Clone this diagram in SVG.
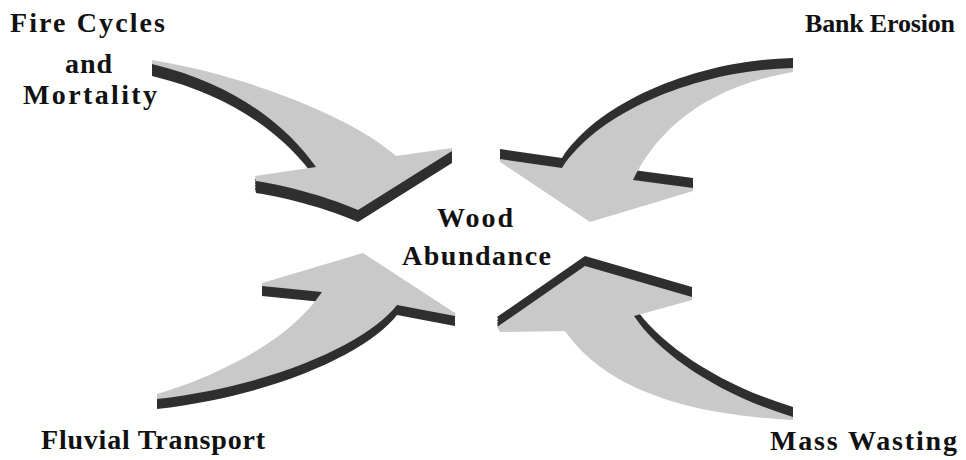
<svg xmlns="http://www.w3.org/2000/svg" xmlns:xlink="http://www.w3.org/1999/xlink" width="966" height="460" viewBox="0 0 966 460">
<style>
.lbl{font-family:"Liberation Serif","Times New Roman",serif;font-weight:bold;font-size:28px;fill:#111}
.top{fill:#c9c9c9}
.side{fill:#2f2f2f}
</style>
<defs>
<path id="a1" d="M152,60 C240,74 350,115 396,156 L452,148 L452,151 L358,210 C330,198 290,186 256,181 L255,176 L316,167 C290,130 240,85 152,64 Z"/>
<path id="a2" d="M793,68 C700,70 600,110 562,168 L500,159 L500,162 L590,222 L693,191 L693,188 L633,180 C655,135 700,88 793,72 Z"/>
<path id="a3" d="M157,394 C220,375 290,340 322,292 L262,286 L262,283 L363,253 L455,313 L455,316 L397,305 C370,340 280,385 157,399 Z"/>
<path id="a4" d="M497,327 L585,266 L692,297 L692,300 L634,316 C660,355 720,395 793,417 L793,420 C700,415 610,395 565,331 L500,332 Z"/>
</defs>
<rect width="966" height="460" fill="#fff"/>
<g id="connectors">
  <g id="arrow-fire">
    <use xlink:href="#a1" class="side" transform="translate(0,12)"/>
    <use xlink:href="#a1" class="side" transform="translate(0,9)"/>
    <use xlink:href="#a1" class="side" transform="translate(0,6)"/>
    <use xlink:href="#a1" class="side" transform="translate(0,3)"/>
    <use xlink:href="#a1" class="top"/>
  </g>
  <g id="arrow-bank">
    <use xlink:href="#a2" class="side" transform="translate(0,-10)"/>
    <use xlink:href="#a2" class="side" transform="translate(0,-7)"/>
    <use xlink:href="#a2" class="side" transform="translate(0,-4)"/>
    <use xlink:href="#a2" class="side" transform="translate(0,-2)"/>
    <use xlink:href="#a2" class="top"/>
  </g>
  <g id="arrow-fluvial">
    <use xlink:href="#a3" class="side" transform="translate(0,10)"/>
    <use xlink:href="#a3" class="side" transform="translate(0,7)"/>
    <use xlink:href="#a3" class="side" transform="translate(0,4)"/>
    <use xlink:href="#a3" class="side" transform="translate(0,2)"/>
    <use xlink:href="#a3" class="top"/>
  </g>
  <g id="arrow-mass">
    <use xlink:href="#a4" class="side" transform="translate(0,-10)"/>
    <use xlink:href="#a4" class="side" transform="translate(0,-7)"/>
    <use xlink:href="#a4" class="side" transform="translate(0,-4)"/>
    <use xlink:href="#a4" class="side" transform="translate(0,-2)"/>
    <use xlink:href="#a4" class="top"/>
  </g>
</g>
<g id="fire">
  <text class="lbl" x="10" y="32" textLength="155" lengthAdjust="spacing">Fire Cycles</text>
  <text class="lbl" x="65" y="73" textLength="47" lengthAdjust="spacing">and</text>
  <text class="lbl" x="23" y="104" textLength="134" lengthAdjust="spacing">Mortality</text>
</g>
<g id="bank">
  <text class="lbl" x="805" y="32" style="font-size:26px" textLength="150" lengthAdjust="spacing">Bank Erosion</text>
</g>
<g id="wood">
  <text class="lbl" x="437" y="227" textLength="76" lengthAdjust="spacing">Wood</text>
  <text class="lbl" x="402" y="265" textLength="149" lengthAdjust="spacing">Abundance</text>
</g>
<g id="fluvial">
  <text class="lbl" x="41" y="449" textLength="224" lengthAdjust="spacing">Fluvial Transport</text>
</g>
<g id="mass">
  <text class="lbl" x="770" y="450" textLength="187" lengthAdjust="spacing">Mass Wasting</text>
</g>
</svg>
